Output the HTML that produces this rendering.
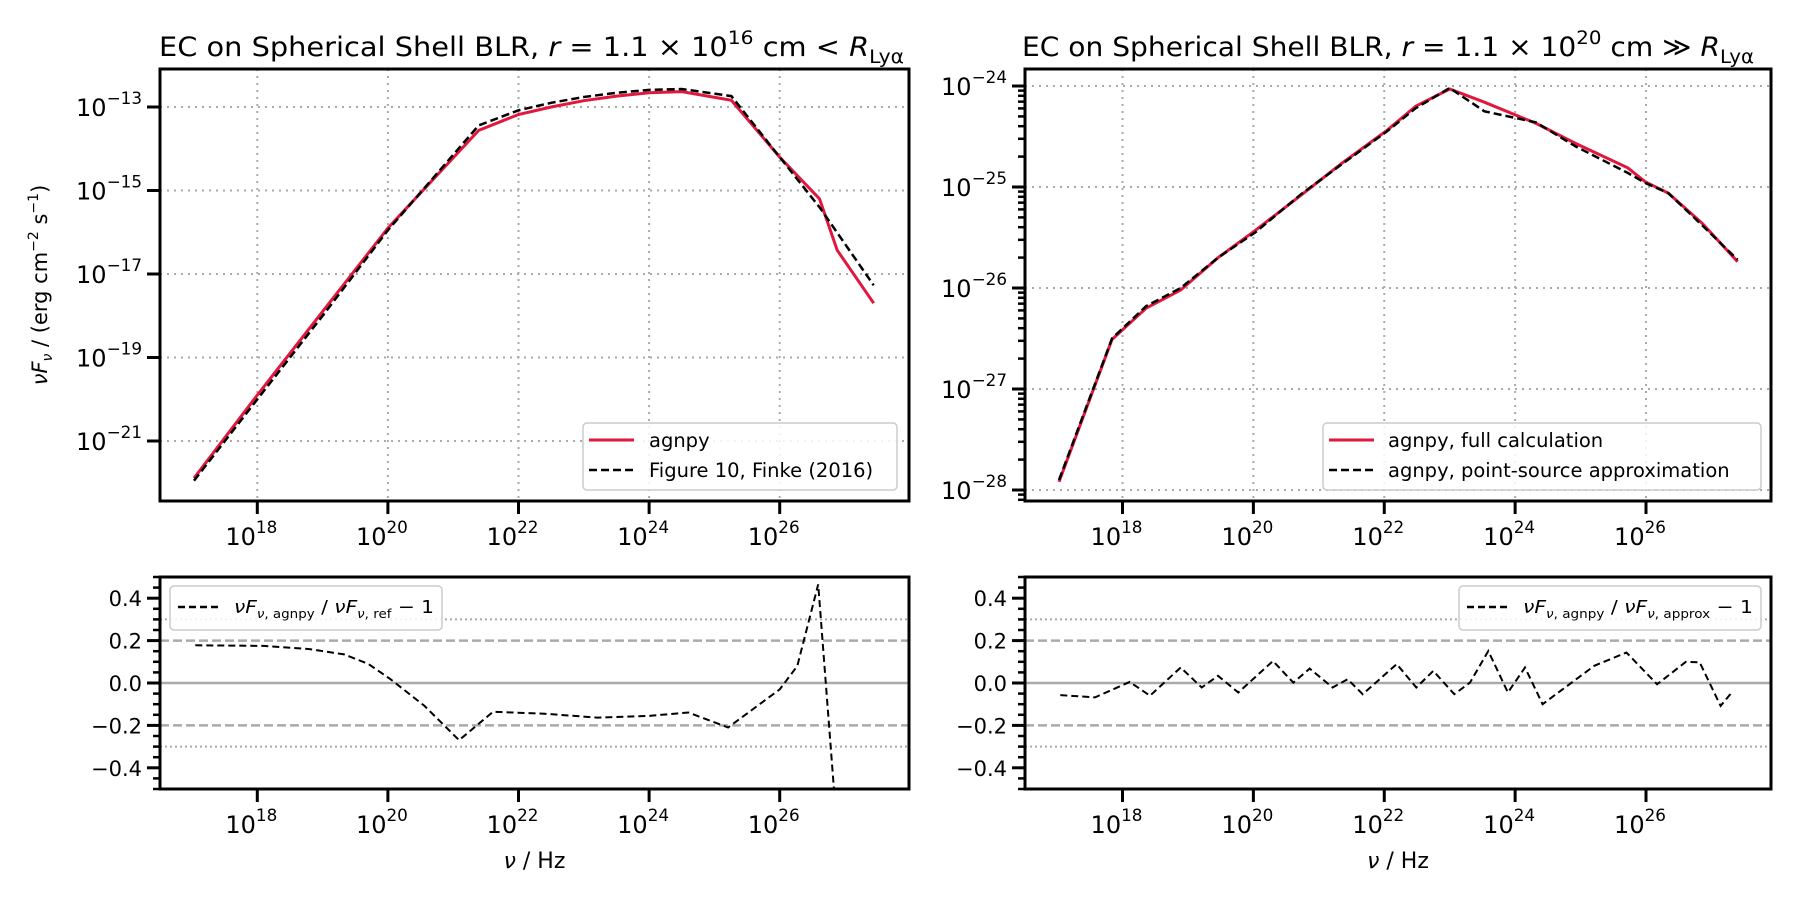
<!DOCTYPE html>
<html><head><meta charset="utf-8"><style>
html,body{margin:0;padding:0;background:#fff;}
svg{display:block;font-family:"DejaVu Sans","Liberation Sans",sans-serif;}
</style></head><body>
<svg id="fig" width="1800" height="900" viewBox="0 0 1800 900"></svg>
<script>
// ---- data (log10 nu, log10 nuFnu) ----
const tlNu = [17.03,18,19,20,21.39,22,22.5,23,23.5,24,24.5,25.26,26,26.61,26.88,27.44];
const tlAgnpy = [-21.89,-19.9,-17.9,-15.9,-13.56,-13.18,-13.0,-12.85,-12.74,-12.66,-12.63,-12.84,-14.2,-15.2,-16.43,-17.7];
const tlFinkeNu = [17.03,18,19,20,21.39,22,22.5,23,23.5,24,24.5,25.26,26,26.61,27.44];
const tlFinke = [-21.95,-20.0,-18.0,-15.95,-13.44,-13.08,-12.9,-12.76,-12.66,-12.59,-12.57,-12.74,-14.2,-15.4,-17.27];
const trNu = [17.03,17.84,18.36,18.89,19.46,20.03,20.73,21.34,22.04,22.48,23.0,23.53,24.32,24.93,25.72,25.99,26.34,26.86,27.4];
const trFull = [-27.92,-26.51,-26.2,-26.02,-25.7,-25.43,-25.08,-24.77,-24.44,-24.2,-24.03,-24.16,-24.37,-24.57,-24.81,-24.95,-25.06,-25.36,-25.74];
const trApprox = [-27.9,-26.5,-26.18,-26.0,-25.7,-25.45,-25.07,-24.78,-24.45,-24.22,-24.02,-24.25,-24.36,-24.6,-24.86,-24.96,-25.06,-25.38,-25.72];
const blNu = [17.05,18.1,18.8,19.33,19.7,20.04,20.56,21.09,21.61,22.4,23.2,24.0,24.6,25.21,26.0,26.27,26.59,26.88];
const blRatio = [0.178,0.175,0.16,0.135,0.09,0.018,-0.108,-0.27,-0.136,-0.145,-0.163,-0.155,-0.139,-0.21,-0.03,0.08,0.465,-0.7];
const brNu = [17.05,17.58,18.11,18.42,18.89,19.21,19.46,19.77,20.30,20.61,20.86,21.21,21.44,21.67,22.19,22.49,22.75,23.07,23.31,23.59,23.89,24.15,24.42,25.21,25.70,26.17,26.61,26.82,27.14,27.31];
const brRatio = [-0.057,-0.068,0.005,-0.06,0.073,-0.021,0.034,-0.045,0.104,0.002,0.068,-0.021,0.018,-0.053,0.089,-0.021,0.057,-0.053,0.002,0.151,-0.045,0.073,-0.1,0.081,0.144,-0.006,0.1,0.097,-0.108,-0.045];
const xTickExps = [18,20,22,24,26];
const tlYTickExps = [-13,-15,-17,-19,-21];
const trYTickExps = [-24,-25,-26,-27,-28];
const ratioTicks = [0.4,0.2,0.0,-0.2,-0.4];

const NS="http://www.w3.org/2000/svg";
const svg=document.getElementById('fig');
function mk(tag,attrs,parent){const e=document.createElementNS(NS,tag);for(const k in attrs)e.setAttribute(k,attrs[k]);(parent||svg).appendChild(e);return e;}
function lin(d0,d1,p0,p1){return v=>p0+(v-d0)/(d1-d0)*(p1-p0);}

function powLabel(g,x,y,exp,anchor,fs){
  const t=mk('text',{x:x,y:y,'font-size':fs,'text-anchor':anchor,fill:'#000'},g);
  
  
  const a=mk('tspan',{},t);a.textContent='10';
  const b=mk('tspan',{dy:-12,'font-size':fs*0.7},t);b.textContent=(exp<0?'\u2212':'')+Math.abs(exp);
  return t;
}
function axesBox(L,T,R,B,name){
  const r=mk('rect',{x:L,y:T,width:R-L,height:B-T,fill:'none',stroke:'#000','stroke-width':3});
  
  
}
function xAxis(sx,T,B,grid){
  const g=mk('g',{});
  
  
  xTickExps.forEach(e=>{
    const x=sx(e);
    if(grid) mk('line',{x1:x,y1:T,x2:x,y2:B,stroke:'#aaa','stroke-width':2,'stroke-dasharray':'2,5'},g);
    mk('line',{x1:x,y1:B,x2:x,y2:B+13,stroke:'#000','stroke-width':3},g);
    powLabel(g,x-6,B+44,e,'middle',24);
  });
}
function pathFrom(xs,ys,sx,sy){return xs.map((v,i)=>(i?'L':'M')+sx(v).toFixed(1)+','+sy(ys[i]).toFixed(1)).join(' ');}
function clipRect(id,L,T,R,B){const d=mk('clipPath',{id:id});mk('rect',{x:L,y:T,width:R-L,height:B-T},d);}

// ===== top-left =====
{
const L=160,T=69,R=909,B=501;
const sx=lin(16.51,27.98,L,R), sy=lin(-13,-21,107,441);
clipRect('c1',L,T,R,B);
xAxis(sx,T,B,true);
const g=mk('g',{});


tlYTickExps.forEach(e=>{const y=sy(e);
  mk('line',{x1:L,y1:y,x2:R,y2:y,stroke:'#aaa','stroke-width':2,'stroke-dasharray':'2,5'},g);
  mk('line',{x1:L-13,y1:y,x2:L,y2:y,stroke:'#000','stroke-width':3},g);
  powLabel(g,L-18,y+9,e,'end',24);});
const pf=mk('path',{d:pathFrom(tlNu,tlAgnpy,sx,sy),fill:'none',stroke:'#e2173d','stroke-width':3,'clip-path':'url(#c1)'});


const pk=mk('path',{d:pathFrom(tlFinkeNu,tlFinke,sx,sy),fill:'none',stroke:'#000','stroke-width':2.5,'stroke-dasharray':'8,4','clip-path':'url(#c1)'});


axesBox(L,T,R,B,'top-left-axes');
const tt=mk('text',{x:159,y:56,'font-size':27,'text-anchor':'start',textLength:745,lengthAdjust:'spacingAndGlyphs'});


tt.innerHTML='EC on Spherical Shell BLR, <tspan font-style="italic">r</tspan> = 1.1 × 10<tspan dy="-12" font-size="19">16</tspan><tspan dy="12"> cm &lt; </tspan><tspan font-style="italic">R</tspan><tspan dy="7" font-size="19">Lyα</tspan>';
const yl=mk('text',{x:0,y:0,'font-size':21,'text-anchor':'middle',transform:'translate(47,285) rotate(-90)'});


yl.innerHTML='<tspan font-style="italic">νF</tspan><tspan font-size="14" dy="5" font-style="italic">ν</tspan><tspan dy="-5"> / (erg cm</tspan><tspan dy="-9" font-size="14">−2</tspan><tspan dy="9"> s</tspan><tspan dy="-9" font-size="14">−1</tspan><tspan dy="9">)</tspan>';
const lg=mk('g',{});


mk('rect',{x:583,y:423,width:314,height:67,rx:4,fill:'#fff','fill-opacity':0.85,stroke:'#ccc','stroke-width':1.5},lg);
mk('line',{x1:589,y1:440,x2:634,y2:440,stroke:'#e2173d','stroke-width':3},lg);
mk('line',{x1:589,y1:470,x2:634,y2:470,stroke:'#000','stroke-width':2.5,'stroke-dasharray':'8,4'},lg);
const a=mk('text',{x:649,y:447,'font-size':19.5},lg);a.textContent='agnpy';
const b=mk('text',{x:649,y:477,'font-size':19.5},lg);b.textContent='Figure 10, Finke (2016)';
}

// ===== top-right =====
{
const L=1025,T=69,R=1771,B=501;
const sx=lin(16.51,27.91,L,R), sy=lin(-24,-28,86,490);
clipRect('c2',L,T,R,B);
xAxis(sx,T,B,true);
const g=mk('g',{});


trYTickExps.forEach(e=>{const y=sy(e);
  mk('line',{x1:L,y1:y,x2:R,y2:y,stroke:'#aaa','stroke-width':2,'stroke-dasharray':'2,5'},g);
  mk('line',{x1:L-13,y1:y,x2:L,y2:y,stroke:'#000','stroke-width':3},g);
  powLabel(g,L-18,y+9,e,'end',24);
  for(let m=2;m<10;m++){const ym=sy(e+Math.log10(m));if(ym>T&&ym<B)mk('line',{x1:L-7,y1:ym,x2:L,y2:ym,stroke:'#000','stroke-width':2.5},g);}
});
for(let m=8;m<10;m++){const ym=sy(-29+Math.log10(m));if(ym<B)mk('line',{x1:L-7,y1:ym,x2:L,y2:ym,stroke:'#000','stroke-width':2.5},g);}
const pf=mk('path',{d:pathFrom(trNu,trFull,sx,sy),fill:'none',stroke:'#e2173d','stroke-width':3,'clip-path':'url(#c2)'});


const pk=mk('path',{d:pathFrom(trNu,trApprox,sx,sy),fill:'none',stroke:'#000','stroke-width':2.5,'stroke-dasharray':'8,4','clip-path':'url(#c2)'});


axesBox(L,T,R,B,'top-right-axes');
const tt=mk('text',{x:1022,y:56,'font-size':27,'text-anchor':'start',textLength:732,lengthAdjust:'spacingAndGlyphs'});


tt.innerHTML='EC on Spherical Shell BLR, <tspan font-style="italic">r</tspan> = 1.1 × 10<tspan dy="-12" font-size="19">20</tspan><tspan dy="12"> cm ≫ </tspan><tspan font-style="italic">R</tspan><tspan dy="7" font-size="19">Lyα</tspan>';
const lg=mk('g',{});


mk('rect',{x:1323,y:423,width:438,height:67,rx:4,fill:'#fff','fill-opacity':0.85,stroke:'#ccc','stroke-width':1.5},lg);
mk('line',{x1:1329,y1:440,x2:1374,y2:440,stroke:'#e2173d','stroke-width':3},lg);
mk('line',{x1:1329,y1:470,x2:1374,y2:470,stroke:'#000','stroke-width':2.5,'stroke-dasharray':'8,4'},lg);
const a=mk('text',{x:1388,y:447,'font-size':19.5},lg);a.textContent='agnpy, full calculation';
const b=mk('text',{x:1388,y:477,'font-size':19.5},lg);b.textContent='agnpy, point-source approximation';
}

// ===== bottom panels =====
function bottom(L,R,xMax,xs,ys,name,cid,legX,legW,legLabel){
  const T=577,B=789;
  const sx=lin(16.51,xMax,L,R), sy=lin(0.5,-0.5,577,789);
  clipRect(cid,L,T,R,B);
  xAxis(sx,T,B,false);
  const g=mk('g',{});
  
  
  mk('line',{x1:L,y1:sy(0),x2:R,y2:sy(0),stroke:'#aaa','stroke-width':2.5},g);
  [0.2,-0.2].forEach(v=>mk('line',{x1:L,y1:sy(v),x2:R,y2:sy(v),stroke:'#aaa','stroke-width':2.5,'stroke-dasharray':'9,4'},g));
  [0.3,-0.3].forEach(v=>mk('line',{x1:L,y1:sy(v),x2:R,y2:sy(v),stroke:'#aaa','stroke-width':2,'stroke-dasharray':'2,3'},g));
  const ya=mk('g',{});
  
  
  ratioTicks.forEach(v=>{const y=sy(v);
    mk('line',{x1:L-13,y1:y,x2:L,y2:y,stroke:'#000','stroke-width':3},ya);
    const t=mk('text',{x:L-18,y:y+8,'font-size':21,'text-anchor':'end'},ya);
    t.textContent=(v<0?'\u2212':'')+Math.abs(v).toFixed(1);});
  for(let k=-10;k<=10;k++){if(k%4===0)continue;const y=sy(k*0.05);mk('line',{x1:L-7,y1:y,x2:L,y2:y,stroke:'#000','stroke-width':2.5},ya);}
  const p=mk('path',{d:pathFrom(xs,ys,sx,sy),fill:'none',stroke:'#000','stroke-width':2,'stroke-dasharray':'7,4','clip-path':'url(#'+cid+')'});
  
  
  axesBox(L,T,R,B,'bottom-axes');
  const xl=mk('text',{x:(L+R)/2,y:868,'font-size':22,'text-anchor':'middle'});
  
  
  xl.innerHTML='<tspan font-style="italic">ν</tspan> / Hz';
  const lg=mk('g',{});
  
  
  mk('rect',{x:legX,y:586,width:legW,height:44,rx:4,fill:'#fff','fill-opacity':0.85,stroke:'#ccc','stroke-width':1.5},lg);
  mk('line',{x1:legX+8,y1:607,x2:legX+50,y2:607,stroke:'#000','stroke-width':2.5,'stroke-dasharray':'7,4'},lg);
  const t=mk('text',{x:legX+64,y:613,'font-size':18,textLength:legW-72,lengthAdjust:'spacingAndGlyphs'},lg);
  t.innerHTML='<tspan font-style="italic">νF</tspan><tspan font-size="12" dy="5"><tspan font-style="italic">ν</tspan>, agnpy</tspan><tspan dy="-5"> / </tspan><tspan font-style="italic">νF</tspan><tspan font-size="12" dy="5"><tspan font-style="italic">ν</tspan>, '+legLabel+'</tspan><tspan dy="-5"> − 1</tspan>';
}
bottom(160,909,27.98,blNu,blRatio,'ratio-ref-line','c3',170,272,'ref');
bottom(1025,1771,27.91,brNu,brRatio,'ratio-approx-line','c4',1459,302,'approx');
</script>
</body></html>
